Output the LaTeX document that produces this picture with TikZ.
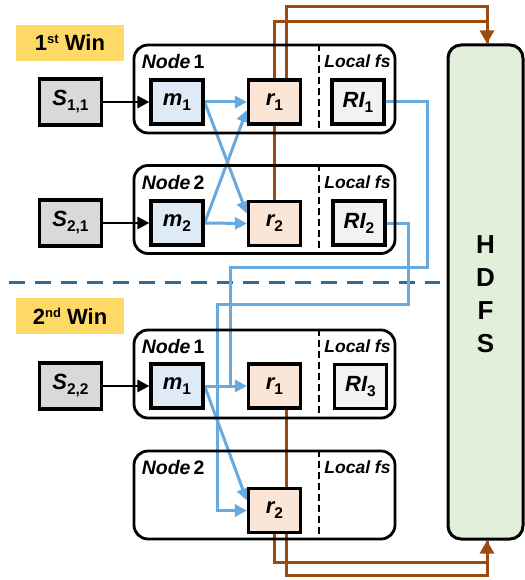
\documentclass[tikz,border=0pt]{standalone}
\usepackage{fontspec}
\setmainfont{Liberation Sans}
\usetikzlibrary{arrows.meta,calc}
\pgfdeclarelayer{bg}
\pgfsetlayers{bg,main}
\definecolor{bluel}{HTML}{68A9DE}
\definecolor{brownl}{HTML}{9C4A10}
\definecolor{sepblue}{HTML}{2E6B94}
\definecolor{yell}{HTML}{FFD966}
\definecolor{sgray}{HTML}{D9D9D9}
\definecolor{mblue}{HTML}{DEEBF7}
\definecolor{rpeach}{HTML}{FBE5D6}
\definecolor{rigray}{HTML}{F2F2F2}
\definecolor{hgreen}{HTML}{E2EFDA}
\newcommand\boxlbl[2]{{\bfseries\itshape #1}\raisebox{-5pt}{\fontsize{15.5}{15.5}\selectfont\bfseries #2}}
\newcommand\winlbl[2]{\fontsize{22}{22}\selectfont\bfseries #1\raisebox{7pt}{\fontsize{13}{13}\selectfont #2} Win}
\begin{document}
\begin{tikzpicture}[x=1pt,y=-1pt,
  smallbox/.style={draw=black,line width=3.2pt,minimum width=52pt,minimum height=44pt,inner sep=0pt,font=\fontsize{22}{22}\selectfont},
  sbox/.style={smallbox,fill=sgray,minimum width=62pt,minimum height=46pt},
  mbox/.style={smallbox,fill=mblue},
  rbox/.style={smallbox,fill=rpeach},
  ribox/.style={smallbox,fill=rigray},
  container/.style={draw=black,line width=2.8pt,rounded corners=14pt,minimum width=261pt,minimum height=88pt,inner sep=0pt},
  winbox/.style={fill=yell,minimum width=108pt,minimum height=36pt,inner sep=0pt},
  nodelbl/.style={anchor=west,inner sep=0pt,font=\fontsize{19.5}{19.5}\selectfont\bfseries},
  fslbl/.style={anchor=center,inner sep=0pt,font=\fontsize{17.5}{17.5}\selectfont\bfseries\itshape},
  sepline/.style={line width=2.4pt,dash pattern=on 7pt off 4pt},
  blk/.style={line width=2.8pt,-{Triangle[length=12pt,width=12pt]}},
  bl/.style={draw=bluel,line width=3pt},
  bla/.style={bl,-{Triangle[length=12pt,width=12pt]}},
  br/.style={draw=brownl,line width=3pt},
  bra/.style={br,-{Triangle[length=13pt,width=14pt]}}
]
\useasboundingbox (0,0) rectangle (524,580);

% window labels
\node[winbox] (w1) at (70,43) {\winlbl{1}{st}};
\node[winbox] (w2) at (70,316) {\winlbl{2}{nd}};

% containers
\node[container] (c11) at (264.5,89) {};
\node[container] (c12) at (264.5,209.5) {};
\node[container] (c21) at (264.5,374) {};
\node[container] (c22) at (264.5,495) {};
\coordinate (sepx) at (319,0);
\coordinate (fsx) at (357.5,0);
\foreach \c in {c11,c12,c21,c22}{
  \draw[sepline] (\c.north -| sepx) -- (\c.south -| sepx);
}
\node[nodelbl] (l11) at ([xshift=9pt,yshift=-18pt]c11.north west) {\textit{Node}\hspace{3pt}1};
\node[nodelbl] (l12) at ([xshift=9pt,yshift=-18pt]c12.north west) {\textit{Node}\hspace{3pt}2};
\node[nodelbl] (l21) at ([xshift=9pt,yshift=-18pt]c21.north west) {\textit{Node}\hspace{3pt}1};
\node[nodelbl] (l22) at ([xshift=9pt,yshift=-18pt]c22.north west) {\textit{Node}\hspace{3pt}2};
\node[fslbl] (f11) at ([yshift=-18pt]c11.north -| fsx) {Local fs};
\node[fslbl] (f12) at ([yshift=-18pt]c12.north -| fsx) {Local fs};
\node[fslbl] (f21) at ([yshift=-18pt]c21.north -| fsx) {Local fs};
\node[fslbl] (f22) at ([yshift=-18pt]c22.north -| fsx) {Local fs};

% boxes window 1
\node[sbox] (s11) at (70.5,102) {\boxlbl{S}{1,1}};
\node[mbox] (m1a) at (177,102) {\boxlbl{m}{1}};
\node[rbox] (r1a) at (274.5,102) {\boxlbl{r}{1}};
\node[ribox] (ri1) at (358,102) {\boxlbl{RI}{1}};
\node[sbox] (s21) at (70.5,223) {\boxlbl{S}{2,1}};
\node[mbox] (m2a) at (177,223) {\boxlbl{m}{2}};
\node[rbox] (r2a) at (274.5,223.5) {\boxlbl{r}{2}};
\node[ribox] (ri2) at (359,223) {\boxlbl{RI}{2}};
% boxes window 2
\node[sbox] (s22) at (70.5,386) {\boxlbl{S}{2,2}};
\node[mbox] (m1b) at (177,386) {\boxlbl{m}{1}};
\node[rbox] (r1b) at (274.5,386) {\boxlbl{r}{1}};
\node[ribox] (ri3) at (360.5,386.5) {\boxlbl{RI}{3}};
\node[rbox] (r2b) at (274.5,510.5) {\boxlbl{r}{2}};

% HDFS
\node[draw=black,line width=3pt,fill=hgreen,rounded corners=13pt,minimum width=75pt,minimum height=494pt,inner sep=0pt] (hdfs) at (485.5,292) {};
\node[align=center,inner sep=0pt,font=\fontsize{26}{33}\selectfont\bfseries] (hdfst) at ([yshift=-2pt]hdfs.center) {H\\D\\F\\S};

% black arrows
\draw[blk] (s11) -- (m1a);
\draw[blk] (s21) -- (m2a);
\draw[blk] (s22) -- (m1b);

\begin{pgfonlayer}{bg}
% separator
\coordinate (sepL) at (9,282);
\coordinate (sepR) at (440,282);
\draw[draw=sepblue,line width=3pt,dash pattern=on 16pt off 10pt] (sepL) -- (sepR);
% brown lines
\coordinate (tA) at (487,7);
\coordinate (tB) at (487,22);
\coordinate (bA) at (487,575);
\coordinate (bB) at (487,562);
\draw[br] (r2a.north) |- (tB) -- ([xshift=1.5pt]hdfs.north);
\draw[bra] ([xshift=11.5pt]r1a.north) |- (tA) -- ([xshift=1.5pt]hdfs.north);
\draw[br] (r1a.south) -- (r2a.north);
\draw[br] (r2b.south) |- (bB) -- ([xshift=1.5pt]hdfs.south);
\draw[bra] ([xshift=11.5pt]r1b.south) |- (bA) -- ([xshift=1.5pt]hdfs.south);
% blue lines window 1
\draw[bla] (m1a.east) -- (r1a.west);
\draw[bla] (m1a.east) -- ([yshift=10pt]r2a.west);
\draw[bla] (m2a.east) -- (r2a.west);
\draw[bla] (m2a.east) -- ([yshift=-8pt]r1a.west);
% RI lines
\coordinate (p1) at (427,267);
\coordinate (p2) at (230,386);
\draw[bl] (ri1.east) -| (p1) -| (p2);
\coordinate (q1) at (408,304);
\coordinate (q2) at (217,510.5);
\draw[bla] (ri2.east) -| (q1) -| (q2) -- (r2b.west);
% blue lines window 2
\draw[bla] (m1b.east) -- (r1b.west);
\draw[bla] (m1b.east) -- ([yshift=10pt]r2b.west);
\end{pgfonlayer}
\end{tikzpicture}
\end{document}
